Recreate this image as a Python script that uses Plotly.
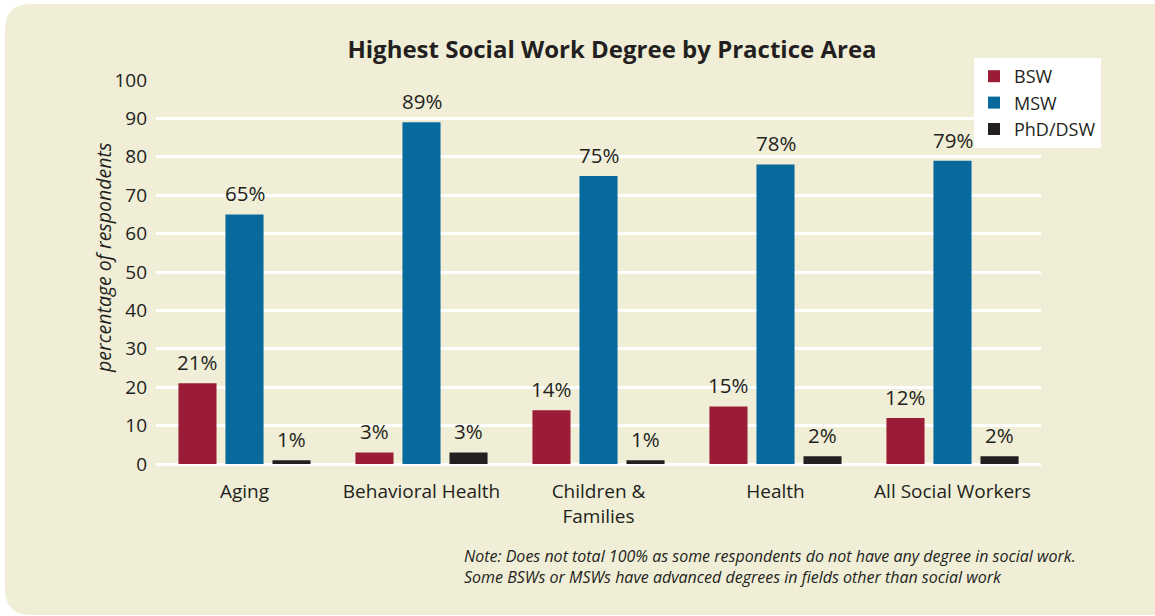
import plotly.graph_objects as go

# Practice areas and share of respondents (%) by highest social work degree
areas = ["Aging", "Behavioral Health", "Children &<br>Families", "Health", "All Social Workers"]
bsw = [21, 3, 14, 15, 12]
msw = [65, 89, 75, 78, 79]
phd = [1, 3, 1, 2, 2]
series_names = ["BSW", "MSW", "PhD/DSW"]
y_ticks = [0, 10, 20, 30, 40, 50, 60, 70, 80, 90, 100]

colors = ["#9b1c37", "#086a9c", "#231f20"]
text_color = "#231f20"
bg = "#f0eed6"
font_family = "Open Sans, Noto Sans, sans-serif"

W, H = 1155, 616
ML, MR, MT, MB = 156, 114, 80, 152
PW, PH = W - ML - MR, H - MT - MB

fig = go.Figure()
for name, vals, col in zip(series_names, [bsw, msw, phd], colors):
    fig.add_trace(go.Bar(name=name, x=areas, y=vals, marker=dict(color=col, line=dict(width=0))))

# value labels above each bar
slot_px = PW / len(areas) * (1 - 0.203) / 3
for i, vals in enumerate([bsw, msw, phd]):
    for a, v in zip(areas, vals):
        fig.add_annotation(
            x=a, y=v, xref="x", yref="y", text=f"{v}%", showarrow=False,
            xshift=(i - 1) * slot_px, yanchor="bottom", yshift=5,
            font=dict(size=20.5, color=text_color, family=font_family),
        )

# rounded panel behind the chart, given in pixels and mapped to paper units
def px_x(p):
    return (p - ML) / PW

def px_y(p):
    return (H - MB - p) / PH

x0, x1, y0, y1, r = 5, 1180, 4, 615, 26
path = (
    f"M {px_x(x0 + r)},{px_y(y0)} L {px_x(x1 - r)},{px_y(y0)} "
    f"Q {px_x(x1)},{px_y(y0)} {px_x(x1)},{px_y(y0 + r)} "
    f"L {px_x(x1)},{px_y(y1 - r)} Q {px_x(x1)},{px_y(y1)} {px_x(x1 - r)},{px_y(y1)} "
    f"L {px_x(x0 + r)},{px_y(y1)} Q {px_x(x0)},{px_y(y1)} {px_x(x0)},{px_y(y1 - r)} "
    f"L {px_x(x0)},{px_y(y0 + r)} Q {px_x(x0)},{px_y(y0)} {px_x(x0 + r)},{px_y(y0)} Z"
)
fig.add_shape(type="path", path=path, xref="paper", yref="paper",
              fillcolor=bg, line=dict(width=0), layer="below")

# y-axis title
fig.add_annotation(
    x=px_x(103), y=px_y(258), xref="paper", yref="paper", xanchor="center", yanchor="middle",
    text="<i>percentage of respondents</i>",
    showarrow=False, textangle=-90, font=dict(size=19.5, color=text_color, family=font_family),
)

# footnote
fig.add_annotation(
    x=px_x(462), y=px_y(543), xref="paper", yref="paper", xanchor="left", yanchor="top", align="left",
    text="<i>Note: Does not total 100% as some respondents do not have any degree in social work.<br>"
         "Some BSWs or MSWs have advanced degrees in fields other than social work</i>",
    showarrow=False, font=dict(size=16, color=text_color, family=font_family),
)

fig.update_layout(
    width=W, height=H,
    margin=dict(l=ML, r=MR, t=MT, b=MB, autoexpand=False),
    paper_bgcolor="white", plot_bgcolor="rgba(0,0,0,0)",
    font=dict(family=font_family, color=text_color),
    title=dict(text="<b>Highest Social Work Degree by Practice Area</b>",
               x=612 / W, xanchor="center", y=1 - 50 / H, yanchor="middle",
               font=dict(size=24, color=text_color, family=font_family)),
    barmode="group", bargap=0.203, bargroupgap=0.19,
    showlegend=True,
    legend=dict(x=px_x(974), y=px_y(58), xanchor="left", yanchor="top",
                bgcolor="white", font=dict(size=18, color=text_color, family=font_family),
                itemwidth=30, tracegroupgap=0),
    xaxis=dict(showgrid=False, showline=False, ticks="", tickfont=dict(size=19),
               ticklabelstandoff=14),
    yaxis=dict(range=[0, 100], tickvals=y_ticks, showgrid=True, gridcolor="white", gridwidth=2.5,
               zeroline=True, zerolinecolor="white", zerolinewidth=2.5,
               showline=False, ticks="", tickfont=dict(size=19), ticklabelstandoff=8),
)

fig.write_html("out.html")
